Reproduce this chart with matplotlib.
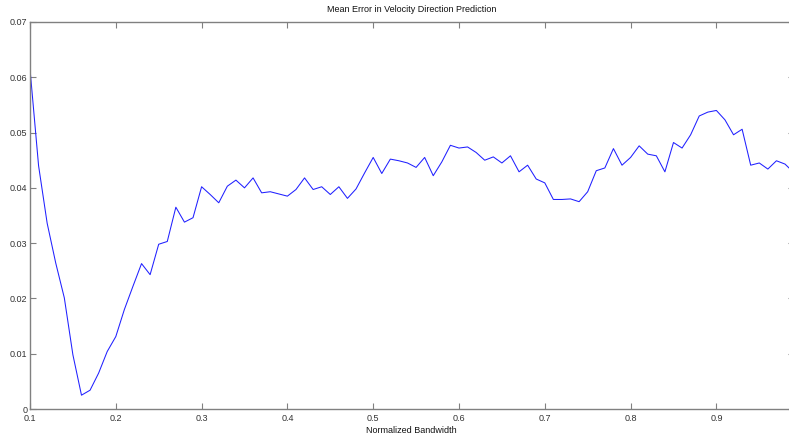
import matplotlib
matplotlib.use("Agg")
import matplotlib.pyplot as plt
import numpy as np

bandwidth = [round(0.10 + 0.01 * i, 2) for i in range(90)]
mean_error = [
    0.0615, 0.0440, 0.0336, 0.0264, 0.0201, 0.0098, 0.0025, 0.0034, 0.0065, 0.0104,
    0.0131, 0.0180, 0.0222, 0.0263, 0.0243, 0.0298, 0.0303, 0.0365, 0.0338, 0.0346,
    0.0402, 0.0388, 0.0373, 0.0403, 0.0414, 0.0400, 0.0418, 0.0391, 0.0393, 0.0389,
    0.0385, 0.0397, 0.0418, 0.0397, 0.0402, 0.0388, 0.0402, 0.0381, 0.0398, 0.0427,
    0.0455, 0.0426, 0.0452, 0.0449, 0.0445, 0.0437, 0.0455, 0.0422, 0.0447, 0.0477,
    0.0472, 0.0474, 0.0464, 0.0450, 0.0456, 0.0445, 0.0458, 0.0429, 0.0441, 0.0416,
    0.0409, 0.0379, 0.0379, 0.0380, 0.0375, 0.0393, 0.0431, 0.0436, 0.0471, 0.0441,
    0.0455, 0.0476, 0.0461, 0.0458, 0.0429, 0.0482, 0.0472, 0.0496, 0.0530, 0.0537,
    0.0540, 0.0523, 0.0496, 0.0506, 0.0441, 0.0445, 0.0434, 0.0449, 0.0443, 0.0428,
]
x_ticks = [0.1, 0.2, 0.3, 0.4, 0.5, 0.6, 0.7, 0.8, 0.9]
x_tick_labels = ["0.1", "0.2", "0.3", "0.4", "0.5", "0.6", "0.7", "0.8", "0.9"]
y_ticks = [0, 0.01, 0.02, 0.03, 0.04, 0.05, 0.06, 0.07]
y_tick_labels = ["0", "0.01", "0.02", "0.03", "0.04", "0.05", "0.06", "0.07"]

plt.rcParams['font.family'] = ['Liberation Sans', 'DejaVu Sans']

W, H = 789, 436
fig = plt.figure(figsize=(W / 100, H / 100), dpi=100)
left, right, top, bottom = 30, 793.6, 22, 409
ax = fig.add_axes([left / W, 1 - bottom / H, (right - left) / W, (bottom - top) / H])

ax.plot(bandwidth, mean_error, color="#2020ff", linewidth=0.75)
ax.set_xlim(0.1, 0.99)
ax.set_ylim(0, 0.07)

ax.set_xticks(x_ticks)
ax.set_xticklabels(x_tick_labels)
ax.set_yticks(y_ticks)
ax.set_yticklabels(y_tick_labels)

grey = "#808080"
for s in ax.spines.values():
    s.set_color(grey)
    s.set_linewidth(1.0)
ax.tick_params(axis="both", direction="in", length=4.5, width=0.8, color=grey,
               labelsize=6.5, labelcolor="#333333", top=True, right=True)
ax.tick_params(axis="x", pad=3.5)
ax.tick_params(axis="y", pad=2)

ax.set_title("Mean Error in Velocity Direction Prediction", fontsize=6.5,
             color="#111111", pad=7.5)
ax.set_xlabel("Normalized Bandwidth", fontsize=6.5, color="#111111", labelpad=2)

fig.savefig("out.png", dpi=100)
